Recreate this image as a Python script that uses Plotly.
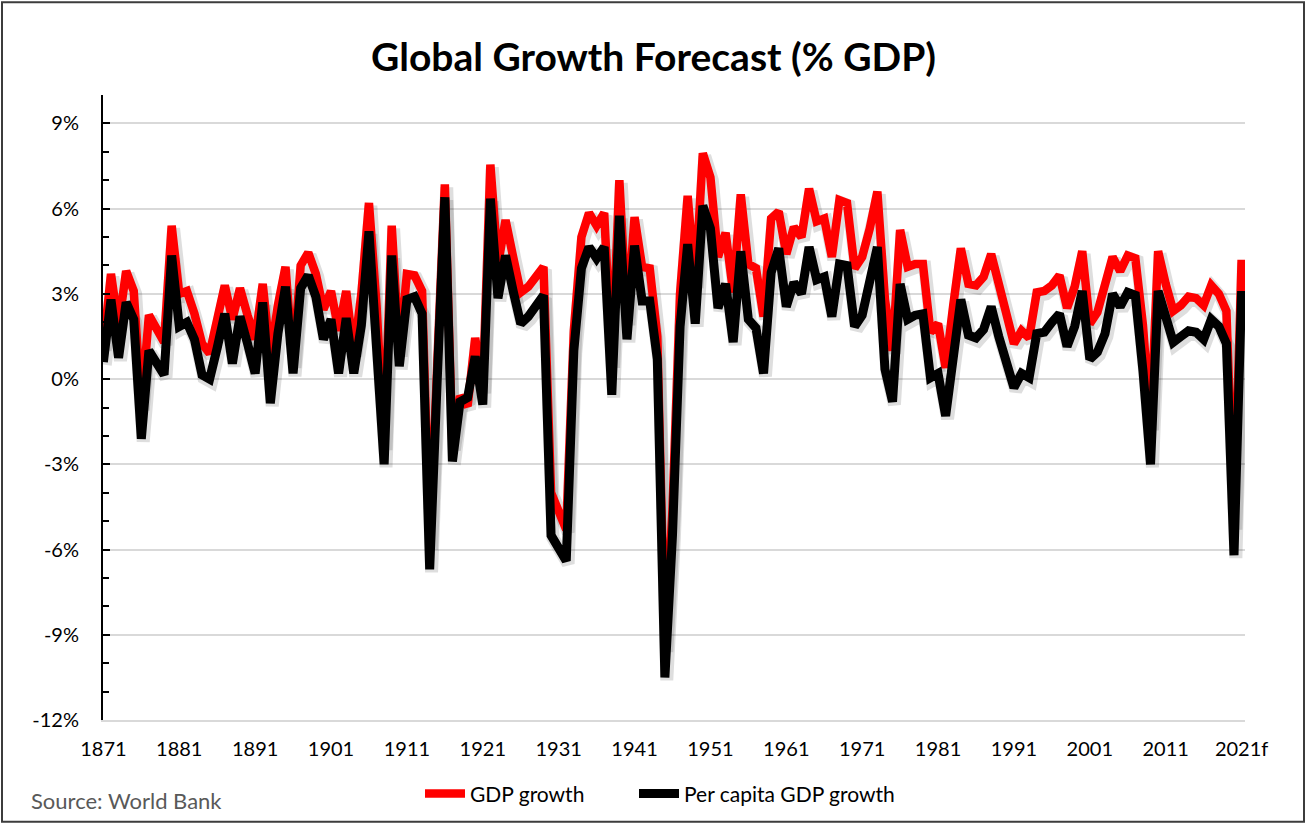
import plotly.graph_objects as go

# Years 1871 .. 2021 (2021 is a forecast)
years = list(range(1871, 2022))

# World GDP growth, % per year, one row per decade
gdp_growth = [
    1.1, 3.7, 1.85, 3.8, 3.1, -1.0, 2.25, 1.75, 1.3, 5.4,          # 1871-1880
    3.0, 3.1, 2.3, 1.25, 0.9, 2.1, 3.3, 2.1, 3.2, 2.25,            # 1881-1890
    1.4, 3.35, 0.8, 2.6, 3.95, 0.5, 4.0, 4.45, 3.7, 2.45,          # 1891-1900
    3.1, 1.7, 3.1, 0.9, 3.0, 6.2, 2.6, -2.4, 5.4, 0.9,             # 1901-1910
    3.7, 3.65, 3.1, -5.9, 0.7, 6.85, -2.4, -0.6, -0.95, 1.45,      # 1911-1920
    -0.4, 7.55, 4.0, 5.6, 4.3, 3.05, 3.25, 3.55, 3.95, -4.0,       # 1921-1930
    -4.6, -5.3, 1.7, 5.0, 5.85, 5.4, 5.85, 0.5, 7.0, 2.0,          # 1931-1940
    5.7, 3.95, 3.9, 1.5, -9.5, -4.6, 3.0, 6.45, 3.3, 7.95,         # 1941-1950
    7.1, 4.3, 5.15, 3.05, 6.5, 4.05, 3.9, 2.2, 5.65, 5.9,          # 1951-1960
    4.4, 5.35, 5.0, 6.7, 5.55, 5.65, 4.3, 6.3, 6.2, 3.9,           # 1961-1970
    4.3, 5.3, 6.6, 2.8, 1.0, 5.25, 3.95, 4.05, 4.05, 1.65,         # 1971-1980
    1.95, 0.4, 2.6, 4.6, 3.35, 3.3, 3.6, 4.4, 3.35, 2.2,           # 1981-1990
    1.25, 1.7, 1.45, 3.05, 3.1, 3.3, 3.65, 2.5, 3.25, 4.5,         # 1991-2000
    1.95, 2.35, 3.25, 4.3, 3.8, 4.35, 4.25, 1.9, -1.7, 4.5,        # 2001-2010
    3.35, 2.4, 2.6, 2.9, 2.85, 2.6, 3.3, 3.0, 2.4, -5.2,           # 2011-2020
    4.2,                                                           # 2021f
]

# World per capita GDP growth, % per year
per_capita_growth = [
    0.6, 2.8, 0.75, 2.7, 2.1, -2.1, 1.0, 0.6, 0.15, 4.35,          # 1871-1880
    1.85, 2.0, 1.4, 0.15, 0.0, 1.1, 2.3, 0.55, 2.2, 1.25,          # 1881-1890
    0.2, 2.7, -0.85, 1.6, 3.25, 0.2, 3.2, 3.65, 2.9, 1.4,          # 1891-1900
    2.1, 0.2, 2.15, 0.2, 1.9, 5.2, 1.5, -3.0, 4.35, 0.45,          # 1901-1910
    2.8, 2.9, 2.3, -6.7, 0.0, 6.4, -2.9, -0.8, -0.65, 0.8,         # 1911-1920
    -0.9, 6.35, 2.85, 4.35, 3.1, 1.95, 2.2, 2.55, 2.95, -5.5,      # 1921-1930
    -5.95, -6.4, 1.0, 3.9, 4.65, 4.25, 4.65, -0.55, 5.75, 1.4,     # 1931-1940
    4.7, 2.75, 2.75, 0.7, -10.5, -5.5, 1.85, 4.75, 1.95, 6.1,      # 1941-1950
    5.3, 2.5, 3.35, 1.3, 4.5, 2.1, 1.8, 0.2, 3.75, 4.6,            # 1951-1960
    2.55, 3.4, 3.0, 4.65, 3.5, 3.6, 2.2, 4.05, 4.0, 1.85,          # 1961-1970
    2.25, 3.45, 4.65, 0.35, -0.8, 3.35, 2.1, 2.25, 2.3, 0.05,      # 1971-1980
    0.2, -1.3, 0.8, 2.8, 1.55, 1.45, 1.75, 2.55, 1.5, 0.55,        # 1981-1990
    -0.3, 0.2, 0.05, 1.6, 1.65, 2.0, 2.3, 1.15, 1.85, 3.1,         # 1991-2000
    0.7, 0.95, 1.6, 3.0, 2.55, 3.05, 2.95, 0.3, -3.0, 3.1,         # 2001-2010
    2.2, 1.3, 1.5, 1.7, 1.65, 1.4, 2.1, 1.85, 1.25, -6.2,          # 2011-2020
    3.1,                                                           # 2021f
]

# Axis labels
x_tick_years = list(range(1871, 2022, 10))
x_tick_text = [str(y) for y in x_tick_years[:-1]] + ["2021f"]
y_tick_vals = list(range(-12, 10, 3))
y_tick_text = [f"{v}%" for v in y_tick_vals]

W, H = 1307, 826
M_L, M_R, M_T, M_B = 103, 62, 95, 104
FONT = "Lato, 'Open Sans', Arial, sans-serif"

plot_w = W - M_L - M_R
plot_h = H - M_T - M_B


def px_x(px):
    return (px - M_L) / plot_w


def px_y(py):
    return (H - M_B - py) / plot_h


fig = go.Figure()

# soft drop shadows under both lines
for series in (gdp_growth, per_capita_growth):
    fig.add_trace(go.Scatter(
        x=[y + 0.25 for y in years], y=[v - 0.1 for v in series],
        mode="lines", line=dict(color="rgba(0,0,0,0.13)", width=13),
        showlegend=False, hoverinfo="skip",
    ))

fig.add_trace(go.Scatter(
    x=years, y=gdp_growth, name="GDP growth", mode="lines",
    line=dict(color="#FF0000", width=8.5), legend="legend",
))
fig.add_trace(go.Scatter(
    x=years, y=per_capita_growth, name="Per capita GDP growth", mode="lines",
    line=dict(color="#000000", width=9), legend="legend2",
))

# outer chart border
fig.add_shape(
    type="rect", xref="paper", yref="paper",
    x0=px_x(2), x1=px_x(W - 3), y0=px_y(H - 2), y1=px_y(2),
    line=dict(color="#3c3c3c", width=2), layer="below",
)

fig.add_annotation(
    text="Source: World Bank", xref="paper", yref="paper",
    x=px_x(29), y=px_y(803),
    xanchor="left", yanchor="middle", showarrow=False,
    font=dict(family=FONT, size=22, color="#595959"),
)

legend_style = dict(
    orientation="h", xanchor="left", yanchor="middle",
    font=dict(family=FONT, size=21, color="#000000"),
    bgcolor="rgba(0,0,0,0)", itemwidth=40,
)

fig.update_layout(
    width=W, height=H,
    margin=dict(l=M_L, r=M_R, t=M_T, b=M_B),
    paper_bgcolor="white", plot_bgcolor="white",
    font=dict(family=FONT, color="#000000"),
    title=dict(
        text="<b>Global Growth Forecast (% GDP)</b>",
        x=0.5, xref="container", xanchor="center",
        y=1 - 57 / H, yref="container", yanchor="middle",
        font=dict(family=FONT, size=39, color="#000000"),
    ),
    showlegend=True,
    legend=dict(x=px_x(420), y=px_y(796), **legend_style),
    legend2=dict(x=px_x(634), y=px_y(796), **legend_style),
    xaxis=dict(
        range=[1870.95, 2021.45],
        tickmode="array", tickvals=x_tick_years, ticktext=x_tick_text,
        ticks="", showgrid=False, zeroline=False,
        showline=True, linecolor="#d9d9d9", linewidth=2,
        tickfont=dict(family=FONT, size=20, color="#000000"),
        ticklabelstandoff=10,
    ),
    yaxis=dict(
        range=[-12, 10],
        tickmode="array", tickvals=y_tick_vals, ticktext=y_tick_text,
        ticks="inside", ticklen=7, tickwidth=2, tickcolor="#000000",
        minor=dict(tickmode="linear", tick0=-12, dtick=1, ticks="inside",
                   ticklen=6, tickwidth=2, tickcolor="#000000", showgrid=False),
        showgrid=True, gridcolor="#d9d9d9", gridwidth=2,
        zeroline=False, showline=True, linecolor="#000000", linewidth=2,
        tickfont=dict(family=FONT, size=20, color="#000000"),
        ticklabelstandoff=18,
    ),
)

fig.write_html("out.html")
